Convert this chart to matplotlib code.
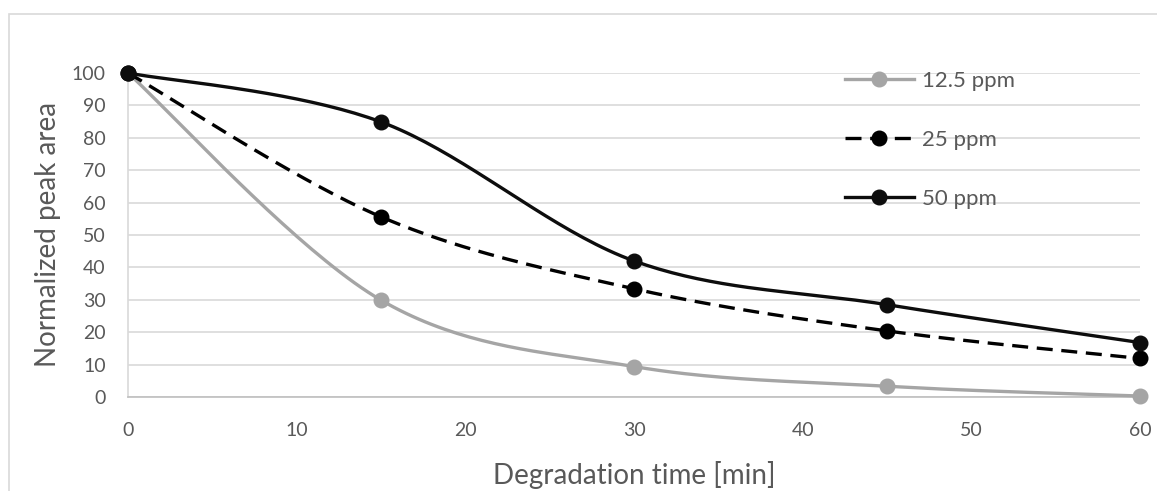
import numpy as np
import matplotlib.pyplot as plt
from matplotlib.patches import Rectangle

# data
time_min = [0, 15, 30, 45, 60]
ppm_12_5 = [100, 29.9, 9.4, 3.3, 0.3]
ppm_25 = [100, 55.6, 33.4, 20.4, 11.9]
ppm_50 = [100, 84.9, 42.0, 28.5, 16.8]
labels = ['12.5 ppm', '25 ppm', '50 ppm']


def smooth(x, y, n=40):
    # Excel-style smoothed line (Bezier through the points)
    x = np.asarray(x, float)
    y = np.asarray(y, float)
    px = np.concatenate([[x[0]], x, [x[-1]]])
    py = np.concatenate([[y[0]], y, [y[-1]]])
    xs, ys, idx = [], [], []
    t = np.linspace(0, 1, n, endpoint=False)
    for i in range(len(x) - 1):
        p0x, p0y = px[i + 1], py[i + 1]
        p3x, p3y = px[i + 2], py[i + 2]
        c1x = p0x + (px[i + 2] - px[i]) / 6
        c1y = p0y + (py[i + 2] - py[i]) / 6
        c2x = p3x - (px[i + 3] - px[i + 1]) / 6
        c2y = p3y - (py[i + 3] - py[i + 1]) / 6
        bx = (1 - t)**3 * p0x + 3 * (1 - t)**2 * t * c1x + 3 * (1 - t) * t**2 * c2x + t**3 * p3x
        by = (1 - t)**3 * p0y + 3 * (1 - t)**2 * t * c1y + 3 * (1 - t) * t**2 * c2y + t**3 * p3y
        idx.append(len(xs))
        xs.extend(bx)
        ys.extend(by)
    idx.append(len(xs))
    xs.append(x[-1])
    ys.append(y[-1])
    return np.array(xs), np.array(ys), idx


plt.rcParams['font.family'] = ['Lato', 'DejaVu Sans']
text_col = '#595959'

fig = plt.figure(figsize=(11.57, 4.91), dpi=100)
fig.patches.append(Rectangle((9 / 1157, -0.1), 1.2, 1 - 14 / 491 + 0.1, transform=fig.transFigure,
                             fill=False, edgecolor='#D9D9D9', linewidth=1.2, zorder=0))
ax = fig.add_axes([128 / 1157, 1 - 397 / 491, (1140 - 128) / 1157, (397 - 73) / 491])

styles = [
    dict(color='#A5A5A5', linestyle='-'),
    dict(color='#000000', linestyle=(0, (4.8, 2.6))),
    dict(color='#0D0D0D', linestyle='-'),
]
for ys, lab, st in zip([ppm_12_5, ppm_25, ppm_50], labels, styles):
    sx, sy, idx = smooth(time_min, ys)
    ax.plot(sx, sy, linewidth=2.4, marker='o', markersize=10.5, markevery=idx,
            label=lab, clip_on=False, zorder=3, **st)

ax.set_xlim(0, 60)
ax.set_ylim(0, 100)
ax.set_xticks(range(0, 61, 10))
ax.set_yticks(range(0, 101, 10))
ax.grid(axis='y', color='#D9D9D9', linewidth=1.2)
ax.set_axisbelow(True)
for s in ['top', 'right']:
    ax.spines[s].set_visible(False)
ax.spines['left'].set_color('#D9D9D9')
ax.spines['bottom'].set_color('#BFBFBF')
ax.spines['left'].set_linewidth(1.2)
ax.spines['bottom'].set_linewidth(1.2)
ax.tick_params(length=0, labelsize=14, labelcolor=text_col)
ax.tick_params(axis='y', pad=16)
ax.tick_params(axis='x', pad=18)

ax.set_xlabel('Degradation time [min]', fontsize=20, color=text_col, labelpad=16)
ax.set_ylabel('Normalized peak area', fontsize=20, color=text_col, labelpad=8)

ax.legend(loc='upper left', bbox_to_anchor=(845 / 1157, 1 - 71 / 491), bbox_transform=fig.transFigure,
          frameon=False, fontsize=16, labelcolor=text_col, handlelength=3.1, handletextpad=0.36,
          labelspacing=1.75, borderpad=0, borderaxespad=0)

plt.savefig('out.png', dpi=100)
